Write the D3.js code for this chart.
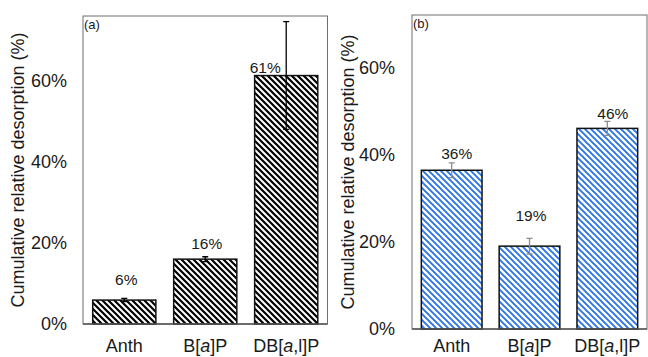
<!DOCTYPE html>
<html>
<head>
<meta charset="utf-8">
<script src="https://cdn.jsdelivr.net/npm/d3@7"></script>
<style>
  body { margin: 0; background: #fff; }
  text { font-family: "Liberation Sans", Arial, sans-serif; fill: #1a1a1a; }
</style>
</head>
<body>
<div id="chart"></div>
<script>
// values (percent)
const categories = ["Anth", "B[a]P", "DB[a,l]P"];
const desorptionA = [5.9, 16.0, 61.3];
const errorA = [0.4, 0.6, 13.3];
const labelsA = ["6%", "16%", "61%"];
const desorptionB = [36.4, 19.0, 46.0];
const errorB = [1.7, 1.8, 1.6];
const labelsB = ["36%", "19%", "46%"];
const yTicks = [0, 20, 40, 60];

let width = 648, height = 357;

const svg = d3.select("#chart")
  .append("svg")
  .attr("width", width)
  .attr("height", height);

const defs = svg.append("defs");

function stripes(id, color, sw) {
  let p = defs.append("pattern")
    .attr("id", id)
    .attr("patternUnits", "userSpaceOnUse")
    .attr("width", 6)
    .attr("height", 6);
  p.append("rect").attr("width", 6).attr("height", 6).attr("fill", "#fff");
  // "\" direction stripes
  p.append("path")
    .attr("d", "M-1.5,-1.5 L7.5,7.5 M-1.5,4.5 L1.5,7.5 M4.5,-1.5 L7.5,1.5")
    .attr("stroke", color)
    .attr("stroke-width", sw);
}
stripes("hatchA", "#000", 2.2);
stripes("hatchB", "#2a74e6", 1.9);

const panels = [
  { tag: "(a)", values: desorptionA, errs: errorA, labels: labelsA,
    left: 83, right: 327.5, top: 16, bottom: 324, max: 76,
    fill: "url(#hatchA)", errColor: "#000", titleX: 18, tickX: 67, catY: 352,
    labelDx: [2, 1.5, -21], labelDy: [21, 16, 8] },
  { tag: "(b)", values: desorptionB, errs: errorB, labels: labelsB,
    left: 412, right: 647, top: 15, bottom: 329, max: 72,
    fill: "url(#hatchB)", errColor: "#8c8c8c", titleX: 348, tickX: 395, catY: 352,
    labelDx: [5, 1.5, 5.5], labelDy: [17, 31, 15] }
];

for (let p of panels) {
  let x = d3.scaleBand()
    .domain(categories)
    .range([p.left, p.right])
    .paddingInner(0.22)
    .paddingOuter(0.12);

  let y = d3.scaleLinear()
    .domain([0, p.max])
    .range([p.bottom, p.top]);

  let g = svg.append("g");

  // plot frame
  g.append("rect")
    .attr("x", p.left)
    .attr("y", p.top)
    .attr("width", p.right - p.left)
    .attr("height", p.bottom - p.top)
    .attr("fill", "none")
    .attr("stroke", "#6e6e6e")
    .attr("stroke-width", 1);

  // y tick labels
  g.selectAll(".ytick")
    .data(yTicks)
    .join("text")
    .attr("x", p.tickX)
    .attr("y", d => y(d))
    .attr("dy", "0.35em")
    .attr("text-anchor", "end")
    .style("font-size", "18px")
    .text(d => d + "%");

  // y title
  g.append("text")
    .attr("transform", `translate(${p.titleX},${(p.top + p.bottom) / 2}) rotate(-90)`)
    .attr("dy", "0.35em")
    .attr("text-anchor", "middle")
    .style("font-size", "18px")
    .text("Cumulative relative desorption (%)");

  // bars
  g.selectAll(".bar")
    .data(p.values)
    .join("rect")
    .attr("x", (d, i) => x(categories[i]))
    .attr("y", d => y(d))
    .attr("width", x.bandwidth())
    .attr("height", d => y(0) - y(d))
    .attr("fill", p.fill)
    .attr("stroke", "#111")
    .attr("stroke-width", 1.5);

  // bottom axis line
  g.append("line")
    .attr("x1", p.left).attr("x2", p.right)
    .attr("y1", p.bottom).attr("y2", p.bottom)
    .attr("stroke", "#555")
    .attr("stroke-width", 1.5);

  // error bars
  p.values.forEach((v, i) => {
    let cx = x(categories[i]) + x.bandwidth() / 2;
    let e = p.errs[i];
    g.append("path")
      .attr("d", `M${cx},${y(v - e)}V${y(v + e)}M${cx - 3},${y(v + e)}H${cx + 3}M${cx - 3},${y(v - e)}H${cx + 3}`)
      .attr("stroke", p.errColor)
      .attr("stroke-width", 1.3)
      .attr("fill", "none");
  });

  // value labels
  g.selectAll(".vlabel")
    .data(p.values)
    .join("text")
    .attr("x", (d, i) => x(categories[i]) + x.bandwidth() / 2 + p.labelDx[i])
    .attr("y", (d, i) => y(d) - p.labelDy[i])
    .attr("dy", "0.35em")
    .attr("text-anchor", "middle")
    .style("font-size", "15.5px")
    .text((d, i) => p.labels[i]);

  // category labels, with italic "a"
  categories.forEach(c => {
    let t = g.append("text")
      .attr("x", x(c) + x.bandwidth() / 2)
      .attr("y", p.catY)
      .attr("text-anchor", "middle")
      .style("font-size", "18px");
    let parts = c === "Anth" ? [c] : c.split(/(a)(?=[\],])/);
    parts.forEach(s => {
      t.append("tspan")
        .style("font-style", s === "a" ? "italic" : "normal")
        .text(s);
    });
  });

  // panel tag
  g.append("text")
    .attr("x", p.left + 1)
    .attr("y", p.top + 13)
    .style("font-size", "13px")
    .text(p.tag);
}
</script>
</body>
</html>
